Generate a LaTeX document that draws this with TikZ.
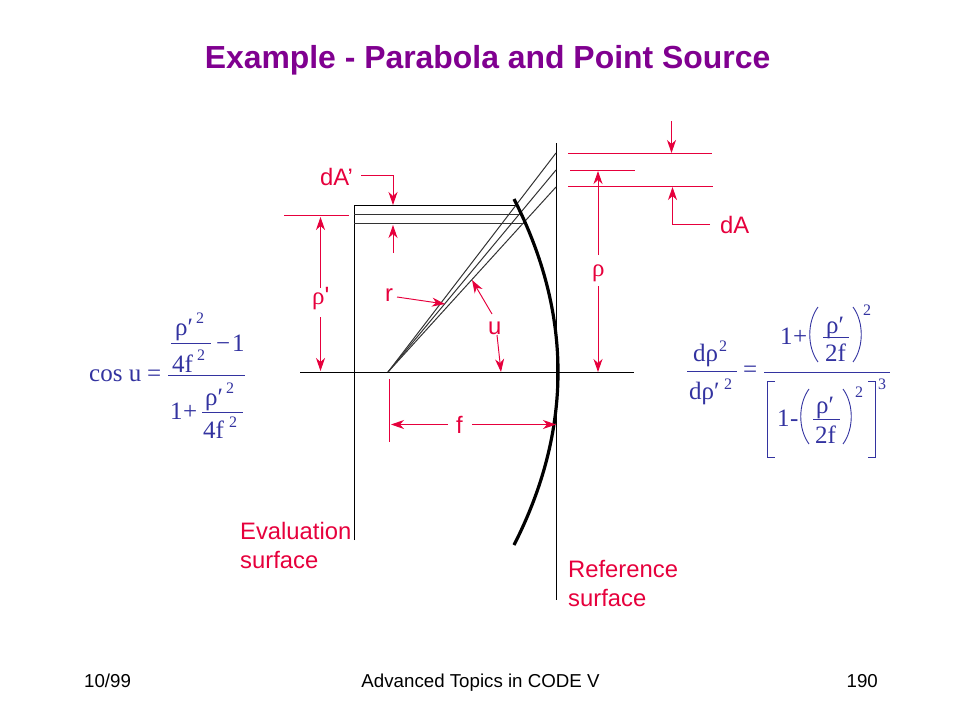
\documentclass[tikz,border=0pt]{standalone}
\usepackage{fontspec}
\setmainfont{Liberation Sans}
\newfontfamily\fser{Liberation Serif}
\usetikzlibrary{arrows.meta}
\definecolor{lblred}{RGB}{230,0,60}
\definecolor{fblue}{RGB}{51,51,160}
\definecolor{ttl}{RGB}{128,0,144}
\tikzset{
 x=1pt,y=-1pt,
 lbl/.style={text=lblred,anchor=base west,inner sep=0pt,font=\fontsize{23.8}{24}\selectfont},
 lblser/.style={text=lblred,anchor=base west,inner sep=0pt,font=\fser\fontsize{25}{25}\selectfont},
 foot/.style={text=black,inner sep=0pt,font=\fontsize{18.7}{19}\selectfont},
 fm/.style={text=fblue,anchor=base west,inner sep=0pt,font=\fser\fontsize{25}{25}\selectfont},
 fs/.style={text=fblue,anchor=base west,inner sep=0pt,font=\fser\fontsize{16}{16}\selectfont},
 fbar/.style={draw=fblue,line width=0.8pt},
 fdel/.style={draw=fblue,line width=0.9pt},
 red/.style={draw=lblred,line width=0.95pt},
 redarrow/.style={red,-{Stealth[length=13pt,width=9pt,inset=4pt]}},
 blk/.style={draw=black,line width=0.9pt},
 rayline/.style={draw=black!80,line width=1pt},
}
\begin{document}
\begin{tikzpicture}
\useasboundingbox (0,0) rectangle (960,720);
\node[inner sep=0pt,text=ttl,font=\bfseries\fontsize{31.9}{32}\selectfont,anchor=base] (title) at (487.5,68) {Example - Parabola and Point Source};
% footer
\node[foot,anchor=base west] (fl) at (84,687) {10/99};
\node[foot,anchor=base] (fc) at (480.5,687) {Advanced Topics in CODE V};
\node[foot,anchor=base east] (fr) at (878,687) {190};
% optics
\draw[blk] (556,143) -- (556,600);
\draw[blk] (354,540) -- (354,205.5) -- (515,205.5);
\draw[rayline] (354,214) -- (520,214);
\draw[rayline] (354,223) -- (525,223);
\draw[blk] (300,372) -- (634,372);
\draw[rayline] (388,372) -- (556,153);
\draw[rayline] (388,372) -- (556,170);
\draw[rayline] (388,372) -- (556,187);
\draw[draw=black,line width=3.2pt] (514,199) .. controls (572.67,314.33) and (572.67,429.67) .. (514,545);
% red: dA'
\node[lbl] (dap) at (320,185) {dA'};
\draw[redarrow] (361,175) -- (393,175) -- (393,205);
\draw[redarrow] (393,253) -- (393,225);
% rho'
\draw[red] (284,215) -- (349,215);
\node[lblser] (rp) at (312,304) {ρ\fontspec{Liberation Sans}'};
\draw[redarrow] (320.5,288) -- (320.5,217);
\draw[redarrow] (320.5,317) -- (320.5,371);
% r, u
\node[lbl] (rl) at (385,301) {r};
\draw[redarrow] (397,297) -- (445,304);
\node[lbl] (ul) at (488,334) {u};
\draw[redarrow] (492,314) -- (472,280);
\draw[redarrow] (497,335) -- (501,372);
% f
\draw[red] (389,379) -- (389,442);
\node[lbl] (fl2) at (456,433) {f};
\draw[redarrow] (448,424.5) -- (391,424.5);
\draw[redarrow] (472,424.5) -- (556,424.5);
% right side
\draw[red] (568,153) -- (712,153);
\draw[red] (570,170.5) -- (635,170.5);
\draw[red] (568,186.5) -- (713,186.5);
\draw[redarrow] (671.5,121) -- (671.5,153);
\draw[redarrow] (710,224.5) -- (672.5,224.5) -- (672.5,187);
\node[lbl] (da) at (720,233) {dA};
\draw[redarrow] (598,255) -- (598,171);
\node[lblser] (rh) at (592,276) {ρ};
\draw[redarrow] (598,286) -- (598,372);
% surface labels
\node[lbl] (ev1) at (240,539) {Evaluation};
\node[lbl] (ev2) at (240,568) {surface};
\node[lbl] (rf1) at (568,577) {Reference};
\node[lbl] (rf2) at (568,606) {surface};
% left formula
\node[fm] (c1) at (89,381) {cos u};
\node[fm] (c2) at (147,381) {=};
\draw[fbar] (168,375.5) -- (245,375.5);
\node[fm] (c3) at (175,335) {ρ′};
\node[fs] (c4) at (196,323) {2};
\draw[fbar] (171,343) -- (211,343);
\node[fm] (c5) at (172,372) {4f};
\node[fs] (c6) at (197,360) {2};
\node[fm] (c7) at (216,351) {−};
\node[fm] (c7b) at (232,351) {1};
\node[fm] (c8) at (170,419) {1};
\node[fm] (c9) at (183,419) {+};
\node[fm] (c10) at (205,405) {ρ′};
\node[fs] (c11) at (226,393) {2};
\draw[fbar] (202,412.5) -- (243,412.5);
\node[fm] (c12) at (203,438) {4f};
\node[fs] (c13) at (229,427) {2};
% right formula
\node[fm] (d1) at (693,361) {dρ};
\node[fs] (d2) at (719,351) {2};
\draw[fbar] (687,371.5) -- (737,371.5);
\node[fm] (d3) at (689,399) {dρ′};
\node[fs] (d4) at (724,389) {2};
\node[fm] (d5) at (743,377) {=};
\draw[fbar] (764,372) -- (890,372);
\node[fm] (d6) at (780,344) {1};
\node[fm] (d7) at (793,344) {+};
\draw[fdel] (818,307) .. controls (807,322) and (807,347) .. (818,362);
\node[fm] (d8) at (826,333) {ρ′};
\draw[fbar] (823,337.5) -- (849,337.5);
\node[fm] (d9) at (825,361) {2f};
\draw[fdel] (853,307) .. controls (864,322) and (864,347) .. (853,362);
\node[fs] (d10) at (863,315) {2};
\draw[fdel] (775,381) -- (767,381) -- (767,457.5) -- (775,457.5);
\node[fm] (d11) at (777,426) {1};
\node[fm] (d12) at (790,426) {-};
\draw[fdel] (809,389) .. controls (798,404) and (798,429) .. (809,444);
\node[fm] (d13) at (816,413) {ρ′};
\draw[fbar] (813,419) -- (840,419);
\node[fm] (d14) at (815,443) {2f};
\draw[fdel] (843,389) .. controls (854,404) and (854,429) .. (843,444);
\node[fs] (d15) at (855,397) {2};
\draw[fdel] (868,381) -- (875,381) -- (875,457.5) -- (868,457.5);
\node[fs] (d16) at (878,389) {3};
\end{tikzpicture}
\end{document}
